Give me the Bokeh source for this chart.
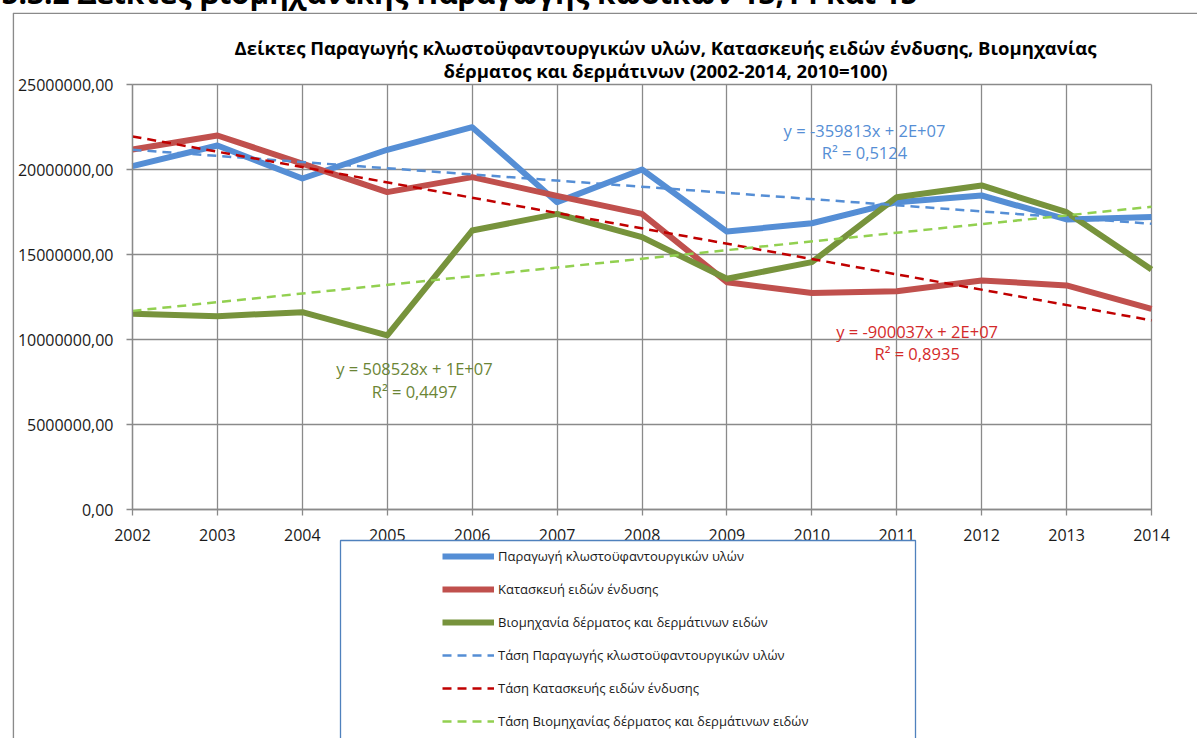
import numpy as np
from bokeh.plotting import figure
from bokeh.models import (Range1d, FixedTicker, CustomJSTickFormatter, Label,
                          BoxAnnotation, Legend, LegendItem)
from bokeh.embed import file_html
from bokeh.resources import INLINE

# ---------------- data ----------------
years = list(range(2002, 2015))
textiles = [20.20e6, 21.41e6, 19.47e6, 21.16e6, 22.49e6, 18.08e6, 20.00e6,
            16.35e6, 16.84e6, 18.08e6, 18.47e6, 17.06e6, 17.20e6]
clothing = [21.18e6, 22.00e6, 20.35e6, 18.67e6, 19.55e6, 18.45e6, 17.39e6,
            13.37e6, 12.73e6, 12.84e6, 13.47e6, 13.18e6, 11.80e6]
leather = [11.51e6, 11.37e6, 11.61e6, 10.24e6, 16.41e6, 17.39e6, 16.02e6,
           13.57e6, 14.55e6, 18.37e6, 19.06e6, 17.49e6, 14.12e6]
y_ticks = [0, 5e6, 10e6, 15e6, 20e6, 25e6]

names = ["Παραγωγή κλωστοϋφαντουργικών υλών",
         "Κατασκευή ειδών ένδυσης",
         "Βιομηχανία δέρματος και δερμάτινων ειδών"]
trend_names = ["Τάση Παραγωγής κλωστοϋφαντουργικών υλών",
               "Τάση Κατασκευής ειδών ένδυσης",
               "Τάση Βιομηχανίας δέρματος και δερμάτινων ειδών"]
eq_texts = [("y = -359813x + 2E+07", "R² = 0,5124"),
            ("y = -900037x + 2E+07", "R² = 0,8935"),
            ("y = 508528x + 1E+07", "R² = 0,4497")]
header = "5.3.2 Δείκτες βιομηχανικής Παραγωγής κωδικών 13,14 και 15"
title1 = "Δείκτες Παραγωγής κλωστοϋφαντουργικών υλών, Κατασκευής ειδών ένδυσης, Βιομηχανίας"
title2 = "δέρματος και δερμάτινων (2002-2014, 2010=100)"

series_colors = ["#558ED5", "#C0504D", "#77933C"]
trend_colors = ["#558ED5", "#C00000", "#92D050"]
label_colors = ["#558ED5", "#D42A2A", "#6B8535"]

GRID = "#8a8a8a"
FONT = "Open Sans"

# ---------------- layout (page pixels) ----------------
W, H = 1197, 738
SHIFT = 40                        # canvas raised so the header is cut at the page top
FL, FR, FT, FB = 12, W, 12, H     # frame = chart area box
PL, PR, PT, PB = 132, 1151, 84, 509   # plot area
x0, x1 = years[0], years[-1]
ymin, ymax = y_ticks[0], y_ticks[-1]
xs = (x1 - x0) / (PR - PL)
ys = (ymax - ymin) / (PB - PT)
x_start, x_end = x0 - (PL - FL) * xs, x1 + (FR - PR) * xs
y_end, y_start = ymax + (PT - FT) * ys, ymin - (FB - PB) * ys


def dx(px):
    return x_start + (px - FL) * xs


def dy(py):
    return y_end - (py - FT) * ys


p = figure(width=W, height=H + SHIFT, output_backend="svg", toolbar_location=None,
           x_range=Range1d(x_start, x_end), y_range=Range1d(y_start, y_end),
           min_border_left=FL, min_border_right=0, min_border_top=FT + SHIFT,
           min_border_bottom=0)
p.styles = {"margin-top": f"-{SHIFT}px"}
p.background_fill_color = "white"
p.border_fill_color = "white"
p.outline_line_color = None

# header (cut by the page top, as in the reference)
p.title.text = header
p.title.text_font = FONT
p.title.text_font_style = "bold"
p.title.text_font_size = "29.8px"
p.title.text_color = "black"
p.title.align = "left"
p.title.standoff = 0
p.title.offset = -11

for ax in (p.xaxis[0], p.yaxis[0]):
    ax.axis_line_color = GRID
    ax.axis_line_width = 1.3
    ax.major_tick_line_color = GRID
    ax.major_tick_line_width = 1.3
    ax.major_tick_out = 6
    ax.major_tick_in = 0
    ax.minor_tick_line_color = None
    ax.major_label_text_font = FONT
    ax.major_label_text_font_size = "16px"
    ax.major_label_text_color = "#1a1a1a"
p.xaxis.ticker = FixedTicker(ticks=years)
p.yaxis.ticker = FixedTicker(ticks=y_ticks)
p.xaxis.fixed_location = ymin
p.yaxis.fixed_location = x0
p.xaxis.bounds = (x0, x1)
p.yaxis.bounds = (ymin, ymax)
p.yaxis.formatter = CustomJSTickFormatter(code="return tick.toFixed(2).replace('.', ',');")
p.yaxis.major_label_standoff = 13
p.xaxis.major_label_standoff = 13

if "cross_bounds" in p.xgrid[0].properties():
    for g in (p.xgrid[0], p.ygrid[0]):
        g.grid_line_color = GRID
        g.grid_line_width = 1.3
    p.xgrid.cross_bounds = (ymin, ymax)
    p.ygrid.cross_bounds = (x0, x1)
else:
    p.xgrid.visible = False
    p.ygrid.visible = False
    p.segment(x0=years, y0=[ymin] * len(years), x1=years, y1=[ymax] * len(years),
              line_color=GRID, line_width=1.3)
    p.segment(x0=[x0] * len(y_ticks), y0=y_ticks, x1=[x1] * len(y_ticks), y1=y_ticks,
              line_color=GRID, line_width=1.3)

# outer chart border (left and top edges visible)
p.add_layout(BoxAnnotation(left=dx(FL + 0.8), right=dx(FR + 500), top=dy(FT + 0.8),
                           bottom=dy(FB + 500), fill_alpha=0, line_color=GRID,
                           line_alpha=1, line_width=1.6))

items = []
series = [textiles, clothing, leather]
for vals, col, nm in zip(series, series_colors, names):
    r = p.line(years, vals, line_color=col, line_width=6, line_join="round")
    items.append(LegendItem(label=nm, renderers=[r]))

xi = np.arange(1, len(years) + 1)
for vals, col, nm in zip(series, trend_colors, trend_names):
    k, b = np.polyfit(xi, np.array(vals), 1)
    r = p.line([years[0], years[-1]], [k * xi[0] + b, k * xi[-1] + b],
               line_color=col, line_width=2.5, line_dash="9 6")
    items.append(LegendItem(label=nm, renderers=[r]))

# equation labels
eq_pos = [(2010.62, 22.29e6, 21.0e6), (2011.24, 10.47e6, 9.18e6), (2005.32, 8.29e6, 6.94e6)]
for (l1, l2), (x, y1, y2), col in zip(eq_texts, eq_pos, label_colors):
    for t, yy in ((l1, y1), (l2, y2)):
        p.add_layout(Label(x=x, y=yy, text=t, text_align="center", text_baseline="middle",
                           text_font=FONT, text_font_size="16.5px", text_color=col))

# chart title (two lines)
for t, py in ((title1, 47), (title2, 70)):
    p.add_layout(Label(x=dx(665), y=dy(py), text=t, text_font=FONT,
                       text_font_style="bold", text_font_size="18.5px",
                       text_align="center", text_baseline="alphabetic",
                       text_color="black"))

# legend box
p.add_layout(BoxAnnotation(left=dx(340), right=dx(915), top=dy(540), bottom=dy(FB + 300),
                           fill_color="white", fill_alpha=1, line_color="#4F81BD",
                           line_alpha=1, line_width=1.3))

legend = Legend(items=items, location=(442 - FL, 7), orientation="vertical",
                glyph_width=52, glyph_height=20, label_height=20, spacing=13,
                padding=7, label_standoff=4, margin=0,
                label_text_font=FONT, label_text_font_size="13px",
                label_text_color="#1a1a1a",
                border_line_color=None, background_fill_alpha=0)
p.add_layout(legend, "center")

open("out.html", "w").write(file_html(p, INLINE))
